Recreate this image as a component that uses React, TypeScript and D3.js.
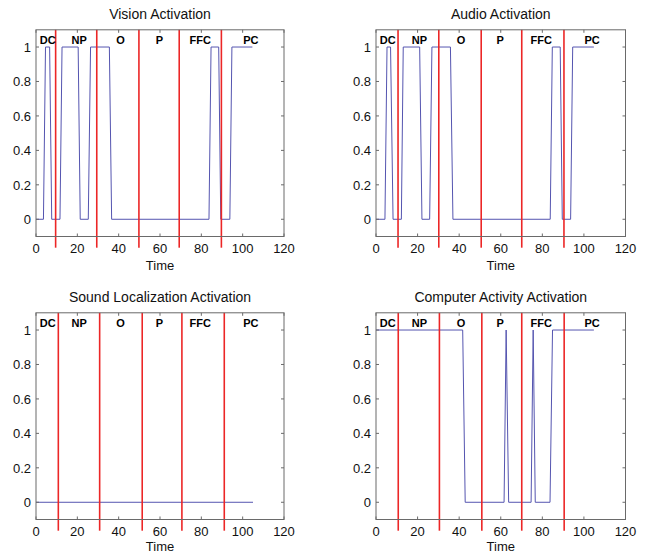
import React, { useRef, useEffect } from 'react';
import * as d3 from 'd3';

// axis ticks
const timeTicks = [0, 20, 40, 60, 80, 100, 120];
const activationTicks = [0, 0.2, 0.4, 0.6, 0.8, 1];

// phase names and where their labels sit on the time axis
const phaseNames = ['DC', 'NP', 'O', 'P', 'FFC', 'PC'];
const phaseLabelTimes = [1.8, 17.2, 38.8, 57.9, 74.3, 100.3];

// phase boundaries (red lines), read per panel
const visionBounds = [9.5, 29.4, 49.8, 69.3, 89.7];
const audioBounds = [10.6, 30.2, 50.6, 70.1, 90.4];
const soundBounds = [10.8, 30.8, 51.4, 70.6, 91.1];
const computerBounds = [10.7, 30.5, 50.9, 70.1, 90.5];

// activation traces (breakpoints)
const visionTimes = [0, 3.6, 4.6, 6.6, 7.6, 11.6, 12.6, 20.4, 21.4, 25.3, 26.4, 35.5, 36.6, 83.7, 84.7, 88.4, 89.4, 93.8, 94.8, 104.7];
const visionValues = [0, 0, 1, 1, 0, 0, 1, 1, 0, 0, 1, 1, 0, 0, 1, 1, 0, 0, 1, 1];

const audioTimes = [0, 4.3, 5.3, 7.0, 8.2, 12.2, 13.1, 21.0, 22.1, 25.8, 26.9, 35.8, 37.0, 83.8, 84.8, 88.6, 89.6, 93.6, 94.6, 104.8];
const audioValues = [0, 0, 1, 1, 0, 0, 1, 1, 0, 0, 1, 1, 0, 0, 1, 1, 0, 0, 1, 1];

const soundTimes = [0, 105];
const soundValues = [0, 0];

const computerTimes = [0, 41.7, 42.9, 61.6, 62.6, 63.8, 74.6, 75.6, 76.6, 83.7, 84.9, 104.8];
const computerValues = [1, 1, 0, 0, 1, 0, 0, 1, 0, 0, 1, 1];

const panels = [
  { title: 'Vision Activation', times: visionTimes, values: visionValues, bounds: visionBounds, left: 36, top: 29.8, w: 248 },
  { title: 'Audio Activation', times: audioTimes, values: audioValues, bounds: audioBounds, left: 376, top: 29.8, w: 249.5 },
  { title: 'Sound Localization Activation', times: soundTimes, values: soundValues, bounds: soundBounds, left: 36, top: 312.8, w: 248 },
  { title: 'Computer Activity Activation', times: computerTimes, values: computerValues, bounds: computerBounds, left: 376, top: 312.8, w: 249.5 },
];

const font = 'Arial, "Liberation Sans", Helvetica, sans-serif';
const W = 648;
const H = 553;

const App = () => {
  const svgRef = useRef<SVGSVGElement | null>(null);

  useEffect(() => {
    if (!svgRef.current) return;
    const svg = d3.select(svgRef.current);
    svg.selectAll('*').remove();

    const h = 206.7;
    const tick = 3;

    panels.forEach(p => {
      const g = svg.append('g').attr('transform', `translate(${p.left},${p.top})`);
      const x = d3.scaleLinear().domain([0, 120]).range([0, p.w]);
      const y = d3.scaleLinear().domain([-0.1, 1.1]).range([h, 0]);

      // title
      g.append('text')
        .attr('x', p.w / 2)
        .attr('y', -11)
        .attr('text-anchor', 'middle')
        .attr('font-family', font)
        .attr('font-size', 14)
        .attr('fill', '#111')
        .text(p.title);

      // activation trace
      const pts = p.times.map((t, i) => [t, p.values[i]] as [number, number]);
      const line = d3.line<[number, number]>().x(d => x(d[0])).y(d => y(d[1]));
      g.append('path')
        .attr('d', line(pts))
        .attr('fill', 'none')
        .attr('stroke', '#5555b0')
        .attr('stroke-width', 1);

      // phase boundaries
      p.bounds.forEach(b => {
        g.append('line')
          .attr('x1', x(b)).attr('x2', x(b))
          .attr('y1', y(1.1)).attr('y2', y(-0.165))
          .attr('stroke', '#ec2626')
          .attr('stroke-width', 1.6);
      });

      // phase labels
      phaseNames.forEach((name, i) => {
        g.append('text')
          .attr('x', x(phaseLabelTimes[i]))
          .attr('y', y(1.02))
          .attr('font-family', font)
          .attr('font-size', 11)
          .attr('font-weight', 'bold')
          .attr('fill', '#000')
          .text(name);
      });

      // box
      g.append('rect')
        .attr('x', 0).attr('y', 0)
        .attr('width', p.w).attr('height', h)
        .attr('fill', 'none')
        .attr('stroke', '#6a6a6a')
        .attr('stroke-width', 1);

      // x ticks (bottom and top, inward)
      timeTicks.forEach(t => {
        g.append('line').attr('x1', x(t)).attr('x2', x(t)).attr('y1', h).attr('y2', h - tick).attr('stroke', '#6a6a6a');
        g.append('line').attr('x1', x(t)).attr('x2', x(t)).attr('y1', 0).attr('y2', tick).attr('stroke', '#6a6a6a');
        g.append('text')
          .attr('x', x(t))
          .attr('y', h + 17)
          .attr('text-anchor', 'middle')
          .attr('font-family', font)
          .attr('font-size', 13)
          .attr('fill', '#111')
          .text(t);
      });

      // y ticks (left and right, inward)
      activationTicks.forEach(v => {
        g.append('line').attr('x1', 0).attr('x2', tick).attr('y1', y(v)).attr('y2', y(v)).attr('stroke', '#6a6a6a');
        g.append('line').attr('x1', p.w).attr('x2', p.w - tick).attr('y1', y(v)).attr('y2', y(v)).attr('stroke', '#6a6a6a');
        g.append('text')
          .attr('x', -5)
          .attr('y', y(v))
          .attr('dy', '0.36em')
          .attr('text-anchor', 'end')
          .attr('font-family', font)
          .attr('font-size', 13)
          .attr('fill', '#111')
          .text(d3.format('~g')(v));
      });

      // x axis label (kept inside the page at the bottom row)
      g.append('text')
        .attr('x', p.w / 2)
        .attr('y', Math.min(h + 34, H - 1.5 - p.top))
        .attr('text-anchor', 'middle')
        .attr('font-family', font)
        .attr('font-size', 13)
        .attr('fill', '#111')
        .text('Time');
    });
  }, []);

  return (
    <svg
      ref={svgRef}
      width={W}
      height={H}
      style={{ position: 'absolute', left: 0, top: 0, background: '#fff' }}
    />
  );
};

export default App;
